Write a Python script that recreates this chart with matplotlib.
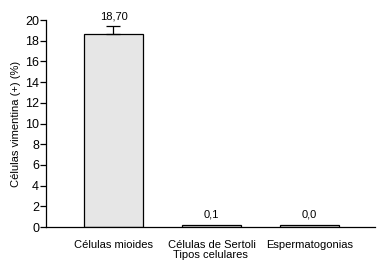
import matplotlib.pyplot as plt

plt.rcParams['font.family'] = ['Liberation Sans', 'DejaVu Sans']

categories = ["Células mioides", "Células de Sertoli", "Espermatogonias"]
values = [18.70, 0.25, 0.2]
errors = [0.7, 0, 0]
value_labels = ["18,70", "0,1", "0,0"]
yticks = list(range(0, 21, 2))

fig = plt.figure(figsize=(3.83, 2.71), dpi=100)
ax = fig.add_axes([0.120, 0.162, 0.859, 0.764])

x = range(len(categories))
ax.bar(x, values, width=0.6, color="#e6e6e6", edgecolor="black", linewidth=0.9)
ax.errorbar([0], [values[0]], yerr=[[0], [errors[0]]], fmt="none",
            ecolor="black", elinewidth=0.9, capsize=5, capthick=0.9)

for i, (v, e, lab) in enumerate(zip(values, errors, value_labels)):
    ax.text(i, v + e + 0.5, lab, ha="center", va="bottom", fontsize=8)

ax.set_xlim(-0.689, 2.668)
ax.set_ylim(0, 20)
ax.set_yticks(yticks)
ax.set_xticks(list(x))
ax.set_xticklabels(categories, fontsize=8)
ax.tick_params(axis="x", length=0, pad=9)
ax.tick_params(axis="y", length=4, width=0.9, labelsize=9, pad=1)
ax.set_xlabel("Tipos celulares", fontsize=8, labelpad=0)
ax.set_ylabel("Células vimentina (+) (%)", fontsize=8, labelpad=3)

for s in ["top", "right"]:
    ax.spines[s].set_visible(False)
for s in ["left", "bottom"]:
    ax.spines[s].set_linewidth(0.9)

fig.savefig("out.png", dpi=100)
